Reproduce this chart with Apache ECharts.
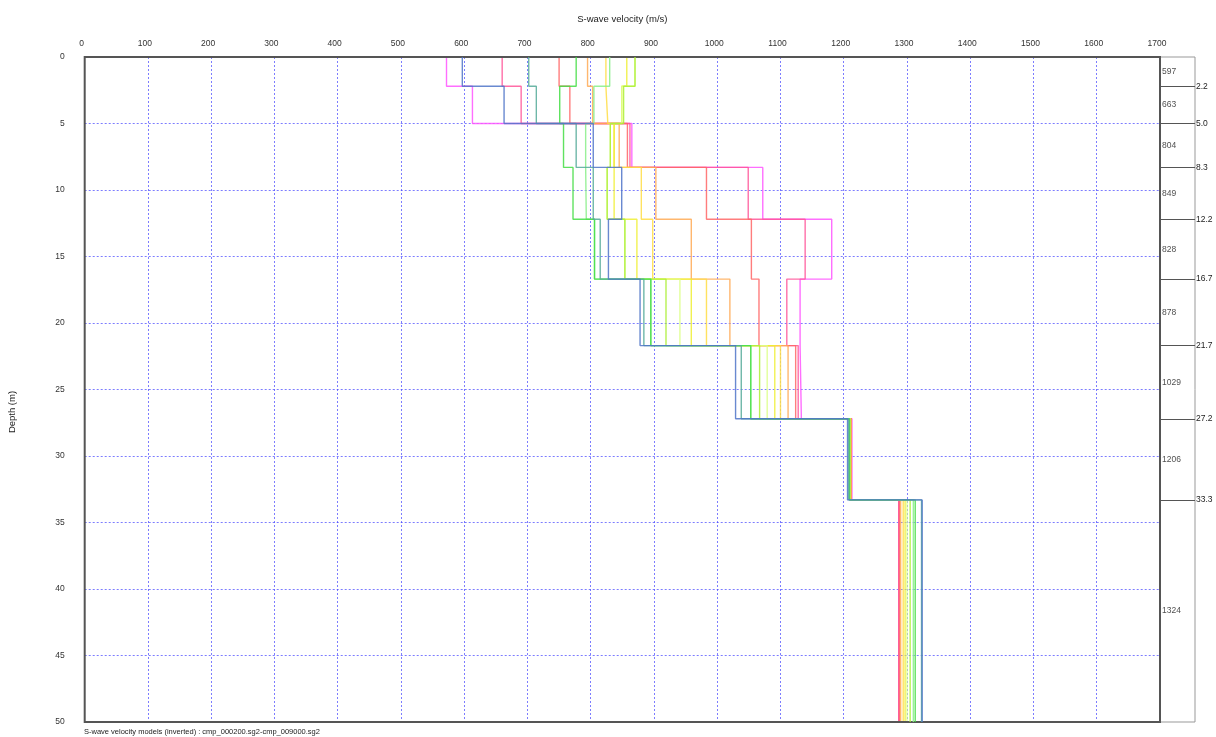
<!DOCTYPE html>
<html>
<head>
<meta charset="utf-8">
<script src="https://cdn.jsdelivr.net/npm/echarts@6/dist/echarts.min.js"></script>
<style>
html,body{margin:0;padding:0;background:#fff;}
#c{width:1216px;height:737px;}
</style>
</head>
<body>
<div id="c"></div>
<script>
// Layer boundaries (depth, m)
var boundaries = [0, 2.2, 5.0, 8.3, 12.2, 16.7, 21.7, 27.2, 33.3, 50];
var boundaryLabels = [2.2, 5.0, 8.3, 12.2, 16.7, 21.7, 27.2, 33.3];
// Reference model (last) layer velocities shown in right panel
var panelValues = [597, 663, 804, 849, 828, 878, 1029, 1206, 1324];

var xTicks = [0,100,200,300,400,500,600,700,800,900,1000,1100,1200,1300,1400,1500,1600,1700];
var yTicks = [0,5,10,15,20,25,30,35,40,45,50];

// Velocity models (m/s per layer), ordered by colour
var m01 = [572, 613, 865, 1072, 1181, 1131, 1133, 1213, 1287];
var m02 = [660, 690, 862, 1049, 1139, 1110, 1128, 1212, 1287];
var m03 = [750, 767, 858, 983, 1054, 1066, 1124, 1212, 1288];
var m04 = [795, 803, 845, 903, 959, 1020, 1112, 1211, 1290];
var m05 = [824, 827, 837, 880, 898, 983, 1100, 1211, 1294];
var m06 = [857, 849, 837, 837, 873, 959, 1091, 1210, 1297];
var m07 = [870, 849, 831, 826, 854, 941, 1079, 1210, 1300];
var m08 = [870, 852, 831, 826, 854, 919, 1067, 1210, 1305];
var m09 = [830, 805, 792, 793, 806, 895, 1053, 1209, 1310];
var m10 = [777, 751, 757, 772, 806, 895, 1053, 1209, 1313];
var m11 = [702, 714, 777, 804, 815, 884, 1038, 1208, 1323];
var m12 = [597, 663, 804, 849, 828, 878, 1029, 1206, 1324];

var models = [m01,m02,m03,m04,m05,m06,m07,m08,m09,m10,m11,m12];
var colors = ['#ff55ff','#ff5599','#ff6666','#ffaa55','#ffdd44','#eeee33','#ddff88','#aaee33','#88ee88','#44dd44','#55aa99','#4f74c8'];

function stepData(v){
  var d = [];
  for (var i = 0; i < v.length; i++){
    d.push([v[i], boundaries[i]]);
    d.push([v[i], boundaries[i+1]]);
  }
  return d;
}

var series = models.map(function(v, i){
  return {
    type: 'line', xAxisIndex: 0, yAxisIndex: 0,
    data: stepData(v), showSymbol: false, symbol: 'none',
    lineStyle: {color: colors[i], width: 1.4, opacity: 0.85},
    silent: true, animation: false, z: 3 + i
  };
});

var layerLabelData = panelValues.map(function(v, i){
  return [0, (boundaries[i] + boundaries[i+1]) / 2, v];
});

series.push({
  type: 'scatter', xAxisIndex: 1, yAxisIndex: 1,
  data: layerLabelData, symbol: 'circle', symbolSize: 2, itemStyle: {color: 'rgba(0,0,0,0)'},
  label: {show: true, position: 'right', distance: 1, color: '#222', fontSize: 8.5, fontFamily: 'Liberation Sans',
    formatter: function(p){ return String(p.data[2]); }},
  animation: false, silent: true, z: 20
});
series.push({
  type: 'line', xAxisIndex: 1, yAxisIndex: 1, data: [], animation: false,
  markLine: {
    symbol: 'none', silent: true, animation: false,
    lineStyle: {color: '#555', type: 'solid', width: 1},
    label: {show: true, position: 'end', distance: 1, color: '#222', fontSize: 8.5, fontFamily: 'Liberation Sans',
      formatter: function(p){ return p.value.toFixed(1); }},
    data: boundaryLabels.map(function(b){ return {yAxis: b}; })
  }
});

var chart = echarts.init(document.getElementById('c'), null, {renderer: 'canvas'});
chart.setOption({
  backgroundColor: '#fff',
  animation: false,
  grid: [
    {left: 84.7, right: 56, top: 57, bottom: 15, show: true, borderColor: '#555', borderWidth: 2, backgroundColor: 'transparent', z: 10},
    {left: 1160, width: 35, top: 57, bottom: 15, show: true, borderColor: '#999', borderWidth: 1}
  ],
  xAxis: [
    {gridIndex: 0, type: 'value', position: 'top', min: 0, max: 1700, interval: 100,
     name: 'S-wave velocity (m/s)', nameLocation: 'middle', nameGap: 33,
     nameTextStyle: {fontSize: 9.5, color: '#222', fontFamily: 'Liberation Sans'},
     axisLine: {show: false}, axisTick: {show: false},
     axisLabel: {fontSize: 8.5, color: '#333', margin: 9, fontFamily: 'Liberation Sans', padding: [0, 6, 0, 0],
       formatter: function(v){ return xTicks.indexOf(v) >= 0 ? String(v) : ''; }},
     splitLine: {show: true, lineStyle: {color: 'rgba(70,70,255,0.7)', type: [2, 2], width: 1}}},
    {gridIndex: 1, type: 'value', min: 0, max: 1, show: false}
  ],
  yAxis: [
    {gridIndex: 0, type: 'value', inverse: true, min: 0, max: 50, interval: 5,
     axisLine: {show: false}, axisTick: {show: false},
     axisLabel: {fontSize: 8.5, color: '#333', margin: 20, fontFamily: 'Liberation Sans',
       formatter: function(v){ return yTicks.indexOf(v) >= 0 ? String(v) : ''; }},
     splitLine: {show: true, lineStyle: {color: 'rgba(70,70,255,0.7)', type: [2, 2], width: 1}}},
    {gridIndex: 1, type: 'value', inverse: true, min: 0, max: 50, show: false}
  ],
  graphic: [
    {type: 'text', x: 12, y: 412, rotation: Math.PI / 2,
     style: {text: 'Depth (m)', fontSize: 9.5, fill: '#222', fontFamily: 'Liberation Sans', textAlign: 'center', textVerticalAlign: 'middle'}},
    {type: 'text', left: 84, top: 728,
     style: {text: 'S-wave velocity models (inverted) : cmp_000200.sg2-cmp_009000.sg2', fontSize: 7.5, fill: '#222', fontFamily: 'Liberation Sans'}}
  ],
  series: series
});
</script>
</body>
</html>
